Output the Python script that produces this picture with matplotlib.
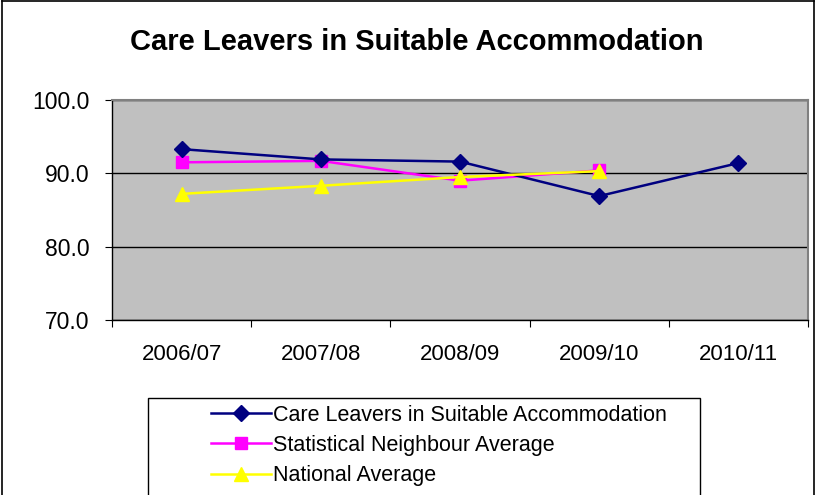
import matplotlib.pyplot as plt
from matplotlib.patches import Rectangle
from matplotlib.lines import Line2D

plt.rcParams['font.family'] = ['Liberation Sans', 'DejaVu Sans']

years = ['2006/07', '2007/08', '2008/09', '2009/10', '2010/11']
care_leavers = [93.3, 91.9, 91.6, 86.9, 91.4]
stat_neighbour = [91.5, 91.7, 89.0, 90.4]
national = [87.2, 88.3, 89.5, 90.3]

fig = plt.figure(figsize=(8.16, 4.95), dpi=100)
ax = fig.add_axes([112 / 816, 1 - 320 / 495, 696 / 816, 220 / 495])
ax.set_facecolor('#C0C0C0')

x = list(range(len(years)))
ax.plot(x, care_leavers, color='#000080', marker='D', markersize=8, lw=1.8,
        label='Care Leavers in Suitable Accommodation', zorder=4)
ax.plot(x[:len(stat_neighbour)], stat_neighbour, color='#FF00FF', marker='s', markersize=8, lw=1.8,
        label='Statistical Neighbour Average', zorder=3)
ax.plot(x[:len(national)], national, color='#FFFF00', marker='^', markersize=10, lw=1.8,
        label='National Average', zorder=5)

ax.set_xlim(-0.5, len(years) - 0.5)
ax.set_ylim(70, 100)
ax.set_yticks([70, 80, 90, 100])
ax.set_yticklabels([f'{v:.1f}' for v in [70, 80, 90, 100]], fontsize=16.5)
ax.yaxis.grid(True, color='black', lw=1)
ax.set_axisbelow(True)

# categories between ticks
ax.set_xticks([i - 0.5 for i in range(len(years) + 1)])
ax.set_xticklabels([])
ax.set_xticks(x, minor=True)
ax.set_xticklabels(years, minor=True, fontsize=16)
ax.tick_params(axis='x', which='minor', length=0, pad=17)
ax.tick_params(axis='x', which='major', length=5, direction='out', color='black')
ax.tick_params(axis='y', length=5, direction='out', pad=11)

for s in ['top', 'right']:
    ax.spines[s].set_color('#808080')
    ax.spines[s].set_linewidth(1.5)
for s in ['left', 'bottom']:
    ax.spines[s].set_color('black')
    ax.spines[s].set_linewidth(1)

fig.text(417 / 816, 1 - 42 / 495, 'Care Leavers in Suitable Accommodation',
         ha='center', va='center', fontsize=21, fontweight='bold')

# legend box
fig.patches.append(Rectangle((148 / 816, -0.05), 552 / 816, 1 - 398 / 495 + 0.05,
                             transform=fig.transFigure, fill=False, edgecolor='black', lw=1))
fig.legend(loc='upper left', bbox_to_anchor=(202 / 816, 1 - 396 / 495), frameon=False,
           fontsize=15.5, handlelength=2.8, handletextpad=0.1, labelspacing=0.43,
           borderaxespad=0)

# outer frame
fig.add_artist(Line2D([0.002, 0.002], [0, 0.998], transform=fig.transFigure, color='black', lw=1.2))
fig.add_artist(Line2D([0.002, 0.998], [0.998, 0.998], transform=fig.transFigure, color='black', lw=1.2))
fig.add_artist(Line2D([0.998, 0.998], [0, 0.998], transform=fig.transFigure, color='black', lw=1.2))

fig.savefig('out.png', dpi=100)
